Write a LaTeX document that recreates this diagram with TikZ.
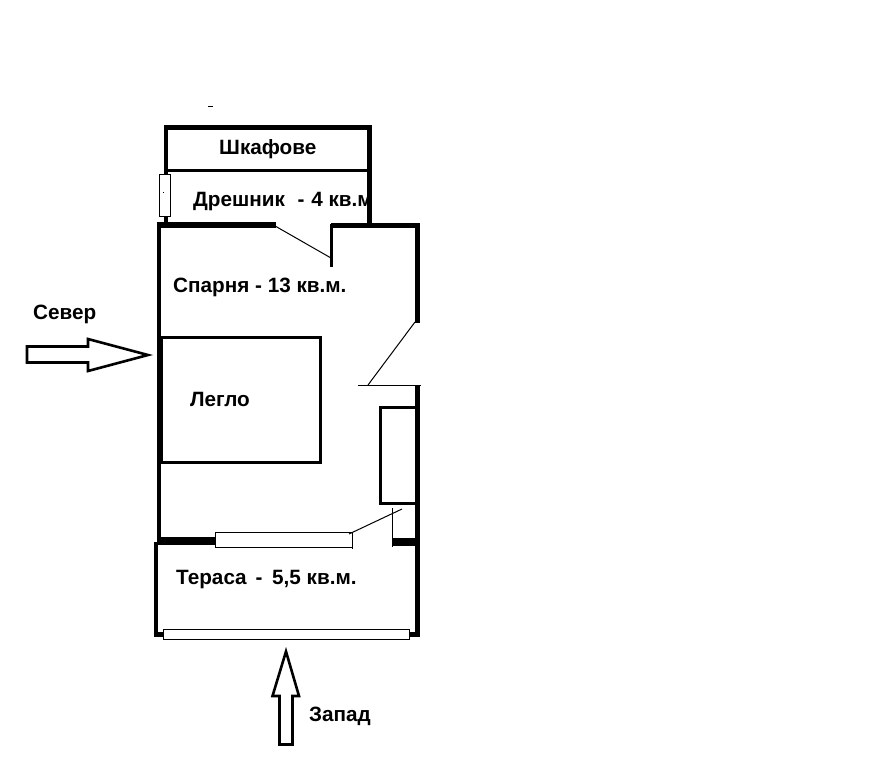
\documentclass[tikz,border=0pt]{standalone}
\usepackage{fontspec}
\setmainfont{Liberation Sans}
\usepackage{tikz}

\tikzset{
  wall/.style={line width=4.5pt,draw=black,line cap=butt},
  fatwall/.style={line width=8pt,draw=black,line cap=butt},
  inner wall/.style={line width=3pt,draw=black,line cap=butt},
  thin line/.style={line width=1pt,draw=black},
  outline/.style={line width=2.6pt,draw=black,line join=miter},
  pane/.style={line width=1pt,draw=black,fill=white},
  label/.style={anchor=west,inner sep=0pt,font=\bfseries\fontsize{20.7}{22}\selectfont}
}

\begin{document}
\begin{tikzpicture}[x=1pt,y=-1pt]
\useasboundingbox (0,0) rectangle (885,774);
\fill[black] (208,105.5) rectangle (213,107);
% closet
\draw[wall] (166,127.5) -- (369.5,127.5);
\draw[wall] (166,125) -- (166,175);
\draw[wall] (369.5,125) -- (369.5,224);
\draw[inner wall] (166,170.5) -- (369.5,170.5);
\draw[wall] (166,213) -- (166,224);
\draw[pane] (159.5,174.5) rectangle (170.5,216);
\fill[black] (163,191.5) rectangle (164,192.5);
% bedroom
\draw[wall] (159,222) -- (159,541);
\draw[fatwall,line width=6pt] (157,225) -- (276,225);
\draw[wall] (331,225.5) -- (419.5,225.5);
\draw[line width=3.5pt] (331.5,223.5) -- (331.5,267);
\draw[thin line] (276,226.5) -- (331,258);
\draw[wall] (417.5,223) -- (417.5,323);
\draw[thin line] (415,322) -- (368,385);
\draw[thin line] (358,385.5) -- (421,385.5);
\draw[wall] (417.5,385) -- (417.5,636);
% bed
\draw[line width=6pt] (160,336) -- (160,463);
\draw[inner wall] (161,337.5) rectangle (320.5,462);
% wardrobe
\draw[inner wall] (416,407.5) -- (380.5,407.5) -- (380.5,503.5) -- (416,503.5);
% terrace door
\draw[fatwall] (157,541) -- (216,541);
\draw[fatwall] (392,541.5) -- (416,541.5);
\draw[pane] (215.5,532.5) rectangle (352,547);
\draw[thin line] (352,532.5) -- (352,548.5);
\draw[thin line] (349,534) -- (402,509);
\draw[thin line] (392.5,508) -- (392.5,547);
% terrace
\draw[wall] (156,542) -- (156,636);
\draw[wall] (154,634.5) -- (165,634.5);
\draw[wall] (406,634.5) -- (419.5,634.5);
\draw[pane] (163.5,629.5) rectangle (409.5,639);
% compass arrows
\draw[outline] (27,346.5) -- (88,346.5) -- (88,339) -- (148,355) -- (88,371) -- (88,362.5) -- (27,362.5) -- cycle;
\draw[outline] (286,651.5) -- (299,696) -- (292.5,696) -- (292.5,744.5) -- (279.5,744.5) -- (279.5,696) -- (272.5,696) -- cycle;
% labels
\node[label] (closets) at (219,149.5) {Шкафове};
\node[label] (dressing) at (193,202) {Дрешник\hspace{7pt} - \hspace{1pt}4 кв.м};
\node[label] (bedroom) at (173,287) {Спарня - 13 кв.м.};
\node[label] (bedlabel) at (190,399.5) {Легло};
\node[label] (north) at (33,314) {Север};
\node[label] (terrace) at (176,579.5) {Тераса\hspace{3pt} - \hspace{4pt}5,5 кв.м.};
\node[label] (west) at (309,716.5) {Запад};
\end{tikzpicture}
\end{document}
